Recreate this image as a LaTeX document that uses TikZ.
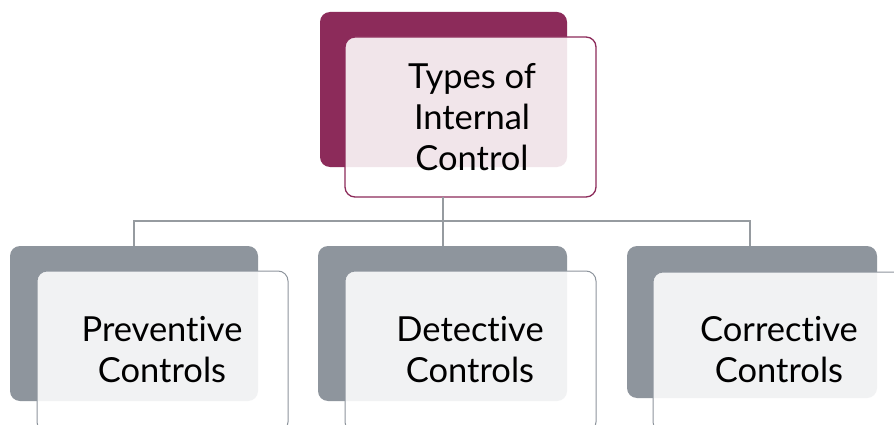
\documentclass[tikz,border=0pt]{standalone}
\usepackage{fontspec}
\setmainfont{Lato}[Ligatures=NoCommon]
\definecolor{maroon}{RGB}{140,43,90}
\definecolor{slate}{RGB}{142,149,157}
\definecolor{linegray}{RGB}{150,155,160}
\tikzset{
  backbox/.style={rounded corners=10pt, draw=none},
  frontbox/.style={rounded corners=10pt, fill=white, fill opacity=0.88, line width=1.3pt, text opacity=1},
  lbl/.style={font=\fontsize{34.5}{41}\selectfont, align=center, text=black},
  conn/.style={draw=linegray, line width=1.8pt},
}
\begin{document}
\begin{tikzpicture}[x=1pt,y=-1pt]
\useasboundingbox[fill=white] (0,0) rectangle (894,425);
% top
\fill[backbox, fill=maroon] (320,12) rectangle (567,167);
\draw[frontbox, draw=maroon] (345,37) rectangle (596,197);
\node[lbl] (top) at (472,117) {Types of\\Internal\\Control};
% bottom back boxes
\fill[backbox, fill=slate] (10,246) rectangle (258,401);
\fill[backbox, fill=slate] (318,246) rectangle (567,401);
\fill[backbox, fill=slate] (627,246) rectangle (877,398);
% front boxes
\draw[frontbox, draw=slate, line width=1pt] (37,271) rectangle (288,432);
\draw[frontbox, draw=slate, line width=1pt] (345,271) rectangle (596,432);
\draw[frontbox, draw=slate, line width=1pt] (653,272) rectangle (905,432);
\node[lbl] (p) at (162,350) {Preventive\\Controls};
\node[lbl] (d) at (470,350) {Detective\\Controls};
\node[lbl] (c) at (779,350) {Corrective\\Controls};
% connectors
\coordinate (j) at (443,221);
\coordinate (pl) at (134,246);
\coordinate (dl) at (443,246);
\coordinate (cl) at (750,246);
\draw[conn] (443,197) -- (j);
\draw[conn] (pl) -- (134,221) -- (750,221) -- (cl);
\draw[conn] (j) -- (dl);
\end{tikzpicture}
\end{document}
